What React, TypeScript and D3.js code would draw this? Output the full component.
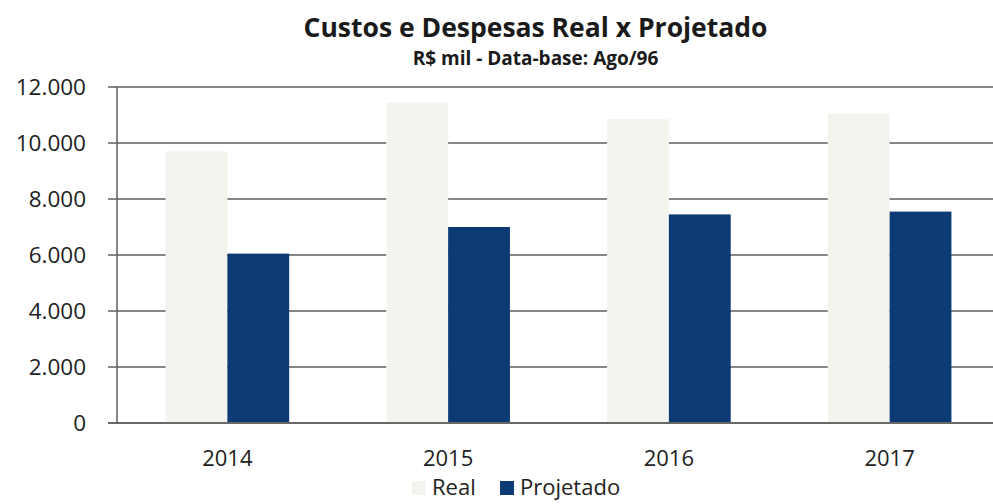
import React from "react";
import * as d3 from "d3";

const years = ["2014", "2015", "2016", "2017"];
const seriesNames = ["Real", "Projetado"];
const realValues = [9700, 11450, 10850, 11050];
const projValues = [6050, 7000, 7450, 7550];
const yTicks = [0, 2000, 4000, 6000, 8000, 10000, 12000];
const colors = ["#f4f4ee", "#0c3a74"];

const W = 993;
const H = 504;
const margin = { left: 117, right: -7, top: 87, bottom: 81 };

export default function App() {
  const x0 = d3
    .scaleBand<string>()
    .domain(years)
    .range([margin.left, W - margin.right])
    .paddingInner(0.44)
    .paddingOuter(0.22);
  const x1 = d3.scaleBand<string>().domain(seriesNames).range([0, x0.bandwidth()]);
  const y = d3.scaleLinear().domain([0, 12000]).range([H - margin.bottom, margin.top]);
  const fmt = (v: number) => d3.format(",")(v).replace(/,/g, ".");
  const series = [realValues, projValues];
  const font = "'Open Sans', sans-serif";

  return (
    <svg width={W} height={H} style={{ position: "absolute", left: 0, top: 0, background: "#fff" }}>
      <text x={535.5} y={37} textAnchor="middle" fontFamily={font} fontWeight="bold" fontSize={26.5} fill="#1a1a1a">
        Custos e Despesas Real x Projetado
      </text>
      <text x={535.5} y={65} textAnchor="middle" fontFamily={font} fontWeight="bold" fontSize={19} fill="#1a1a1a">
        R$ mil - Data-base: Ago/96
      </text>
      {yTicks.map((t) => (
        <g key={t}>
          <line x1={margin.left - 9} x2={W} y1={y(t)} y2={y(t)} stroke="#5e5e5e" strokeWidth={1.5} />
          <text x={86} y={y(t) + 8} textAnchor="end" fontFamily={font} fontSize={22.5} fill="#222">
            {fmt(t)}
          </text>
        </g>
      ))}
      <line x1={margin.left} x2={margin.left} y1={y(12000)} y2={y(0)} stroke="#5e5e5e" strokeWidth={1.5} />
      {years.map((yr, i) => (
        <g key={yr}>
          {series.map((vals, s) => (
            <rect
              key={s}
              x={(x0(yr) as number) + (x1(seriesNames[s]) as number)}
              y={y(vals[i])}
              width={x1.bandwidth()}
              height={y(0) - y(vals[i]) - 1}
              fill={colors[s]}
            />
          ))}
          <text
            x={(x0(yr) as number) + x0.bandwidth() / 2}
            y={466}
            textAnchor="middle"
            fontFamily={font}
            fontSize={22}
            fill="#222"
          >
            {yr}
          </text>
        </g>
      ))}
      <line x1={margin.left - 9} x2={W} y1={y(0)} y2={y(0)} stroke="#5e5e5e" strokeWidth={1.5} />
      <g fontFamily={font} fontSize={22} fill="#222">
        <rect x={412} y={481} width={14} height={14} fill={colors[0]} />
        <text x={432} y={495}>{seriesNames[0]}</text>
        <rect x={500} y={481} width={14} height={14} fill={colors[1]} />
        <text x={520} y={495}>{seriesNames[1]}</text>
      </g>
    </svg>
  );
}
